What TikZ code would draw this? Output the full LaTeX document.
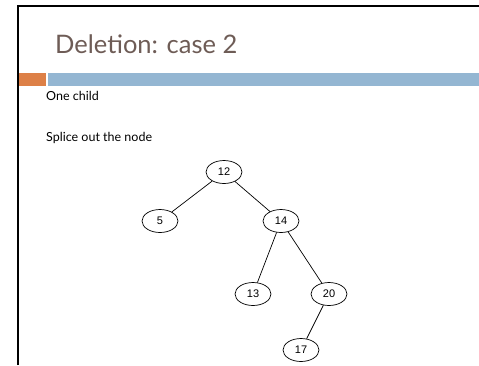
\documentclass[tikz,border=0pt]{standalone}
\usepackage{fontspec}
\usetikzlibrary{shapes.geometric}
\setmainfont{Lato}
\newfontfamily\nodefont{Liberation Sans}
\definecolor{titlebrown}{RGB}{110,92,86}
\definecolor{accentorange}{RGB}{221,128,71}
\definecolor{accentblue}{RGB}{148,182,210}
\begin{document}
\begin{tikzpicture}[x=1pt,y=-1pt,
  treenode/.style={draw,ellipse,line width=0.7pt,minimum width=36pt,minimum height=23pt,inner sep=0pt,font=\nodefont\fontsize{11}{13}\selectfont},
  edge/.style={line width=0.7pt},
  body/.style={anchor=base west,inner sep=0pt,font=\fontsize{12.5}{15}\selectfont}]
\useasboundingbox (0,0) rectangle (479,365);
% slide frame
\draw[line width=2.2pt] (18,365) -- (18,6) -- (479,6);
% title
\node[anchor=base west,inner sep=0pt,text=titlebrown,font=\fontsize{25.5}{30}\selectfont] (title) at (55,53) {Deletion: case 2};
% accent bars
\fill[accentorange] (19,73) rectangle (46,86);
\fill[accentblue] (48,73) rectangle (479,86);
% body text
\node[body] (t1) at (46,100) {One child};
\node[body] (t2) at (46,141) {Splice out the node};
% tree
\node[treenode] (n12) at (224,172) {12};
\node[treenode] (n5) at (160,221) {5};
\node[treenode] (n14) at (281,221) {14};
\node[treenode] (n13) at (253,294) {13};
\node[treenode] (n20) at (329,294) {20};
\node[treenode] (n17) at (301,350) {17};
\draw[edge] (n12) -- (n5);
\draw[edge] (n12) -- (n14);
\draw[edge] (n14) -- (n13);
\draw[edge] (n14) -- (n20);
\draw[edge] (n20) -- (n17);
\end{tikzpicture}
\end{document}
